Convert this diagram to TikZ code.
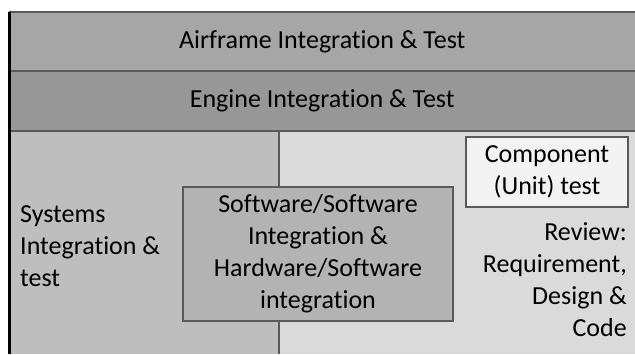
\documentclass[tikz,border=0pt]{standalone}
\usepackage{fontspec}
\setmainfont{Carlito}[RawFeature={-liga;-clig;-calt;-dlig}]
\usetikzlibrary{positioning}

\definecolor{airgray}{HTML}{A6A6A6}
\definecolor{enggray}{HTML}{979797}
\definecolor{sysgray}{HTML}{BEBEBE}
\definecolor{revgray}{HTML}{DADADA}
\definecolor{swgray}{HTML}{B3B3B3}
\definecolor{compgray}{HTML}{F2F2F2}
\definecolor{edgegray}{HTML}{5A5A5A}

\begin{document}
\begin{tikzpicture}[
  x=1pt, y=-1pt,
  band/.style={fill=#1, minimum width=626pt, inner sep=0pt, anchor=north west, font=\fontsize{26}{32}\selectfont},
  panel/.style={fill=#1, minimum height=223pt, inner sep=0pt, anchor=north west},
  boxnode/.style={draw=edgegray, line width=1.5pt, fill=#1, align=center, inner sep=0pt, font=\fontsize{26}{32}\selectfont},
  bodytext/.style={inner sep=0pt, font=\fontsize{26}{32}\selectfont},
  divider/.style={draw=edgegray, line width=1.8pt}
]
\useasboundingbox (0,0) rectangle (635,354);

% horizontal bands
\node[band=airgray, minimum height=59pt] (Airframe) at (9,12) {Airframe Integration \& Test};
\node[band=enggray, minimum height=60pt] (Engine) at (9,71) {Engine Integration \& Test};

% lower panels
\node[panel=sysgray, minimum width=270pt] (SysPanel) at (9,131) {};
\node[panel=revgray, minimum width=356pt] (RevPanel) at (279,131) {};

\draw[divider] (Airframe.north west) -- (Airframe.north east);
\draw[divider] (Engine.north west) -- (Engine.north east);
\draw[divider] (SysPanel.north west) -- (RevPanel.north east);
\draw[divider] (RevPanel.north west) -- (RevPanel.south west);
\draw[line width=3pt] (Airframe.north west) -- (SysPanel.south west);

\node[bodytext, align=left, anchor=west] (Systems) at (20,246) {Systems\\Integration \&\\test};

\node[boxnode=swgray, minimum width=270pt, minimum height=134pt] (SwHw) at (318,254)
  {Software/Software\\Integration \&\\Hardware/Software\\integration};

\node[boxnode=compgray, minimum width=162pt, minimum height=70pt] (Component) at (547,172)
  {Component\\(Unit) test};

\node[bodytext, align=right, anchor=east] (Review) at (627,280)
  {Review:\\Requirement,\\Design \&\\Code};
\end{tikzpicture}
\end{document}
